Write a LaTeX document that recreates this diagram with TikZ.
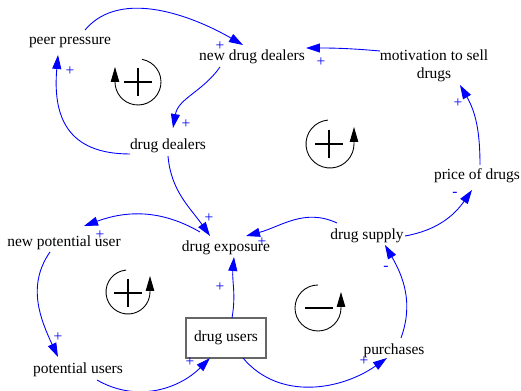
\documentclass[tikz,border=0pt]{standalone}
\usepackage{fontspec}
\setmainfont{Liberation Serif}
\usetikzlibrary{arrows.meta}

\begin{document}
\begin{tikzpicture}[x=0.02cm, y=0.02cm,
  var/.style={inner sep=1pt, font=\fontsize{8.8}{10.2}\selectfont},
  stock/.style={var, draw=black!60, line width=0.8pt, minimum width=1.6cm, minimum height=0.8cm},
  link/.style={blue, line width=0.5pt, -{Triangle[length=2.8mm, width=1.8mm]}},
  pol/.style={blue, inner sep=0pt, font=\fontsize{8.8}{10}\selectfont},
  loopline/.style={line width=0.5pt, -{Triangle[length=3mm, width=1.7mm]}},
  sign/.style={line width=1.1pt}]
  \useasboundingbox (0,0) rectangle (521,391);
  % variables
  \node[var] (pp) at (70,348) {peer pressure};
  \node[var] (ndd) at (252,334) {new drug dealers};
  \node[var, align=center] (mot) at (434,325) {motivation to sell\\drugs};
  \node[var] (dd) at (168,245) {drug dealers};
  \node[var] (price) at (477,215) {price of drugs};
  \node[var] (npu) at (64,148) {new potential user};
  \node[var] (dx) at (226,143) {drug exposure};
  \node[var] (ds) at (367,155) {drug supply};
  \node[var] (pu) at (78,21) {potential users};
  \node[stock] (du) at (226,53) {drug users};
  \node[var] (pur) at (394,40) {purchases};
  % links
  \draw[link] ([shift={(15,13)}]pp.center) to[out=50, in=150, looseness=0.9] ([shift={(-9,12)}]ndd.center);
  \draw[link] ([shift={(-32,-10)}]ndd.center) to[out=235, in=80] ([shift={(5,18)}]dd.center);
  \draw[link] ([shift={(-38,-8)}]dd.center) to[out=180, in=265, looseness=1.3] ([shift={(-12,-12)}]pp.center);
  \draw[link] ([shift={(-54,15)}]mot.center) to[out=175, in=0] ([shift={(54,9)}]ndd.center);
  \draw[link] ([shift={(3,11)}]price.center) to[out=90, in=-60] ([shift={(26,-19)}]mot.center);
  \draw[link] ([shift={(38,0)}]ds.center) to[out=10, in=235] ([shift={(-5,-14)}]price.center);
  \draw[link] ([shift={(0,-10)}]dd.center) to[out=-85, in=125] ([shift={(-16,12)}]dx.center);
  \draw[link] ([shift={(-26,16)}]dx.center) to[out=150, in=20] ([shift={(20,17)}]npu.center);
  \draw[link] ([shift={(-14,-9)}]npu.center) to[out=235, in=115] ([shift={(-20,13)}]pu.center);
  \draw[link] ([shift={(19,-10)}]pu.center) to[out=-30, in=225] ([shift={(-16,-20)}]du.center);
  \draw[link] ([shift={(6,20)}]du.center) to[out=80, in=-95] ([shift={(8,-9)}]dx.center);
  \draw[link] ([shift={(-30,13)}]ds.center) to[out=155, in=15] ([shift={(20,12)}]dx.center);
  \draw[link] ([shift={(17,-20)}]du.center) to[out=-50, in=215] ([shift={(-7,-7)}]pur.center);
  \draw[link] ([shift={(7,13)}]pur.center) to[out=70, in=-60] ([shift={(18,-9)}]ds.center);
  % polarities
  \foreach \px/\py/\sg [count=\k] in {220/345/+, 186/267/+, 70/320/+, 321/329/+,
      458/288/+, 455/197/-, 209/173/+, 100/156/+, 58/54/+, 190/29/+,
      220/104/+, 262/149/+, 364/30/+, 386/123/-}
    \node[pol] (pol\k) at (\px,\py) {\sg};
  % loop markers
  \draw[loopline] (138,309) ++(80:23) arc[start angle=80, end angle=-180, radius=23] -- ++(0,15);
  \draw[sign] (124,309) -- (152,309) (138,295) -- (138,323);
  \draw[loopline] (330,247) ++(95:24) arc[start angle=95, end angle=360, radius=24] -- ++(0,17);
  \draw[sign] (315,247) -- (343,247) (329,233) -- (329,261);
  \draw[loopline] (128,99) ++(95:22) arc[start angle=95, end angle=360, radius=22] -- ++(0,16);
  \draw[sign] (114,98) -- (142,98) (128,84) -- (128,112);
  \draw[loopline] (318,83) ++(90:23) arc[start angle=90, end angle=360, radius=23] -- ++(0,16);
  \draw[sign] (305,83) -- (333,83);
\end{tikzpicture}
\end{document}
